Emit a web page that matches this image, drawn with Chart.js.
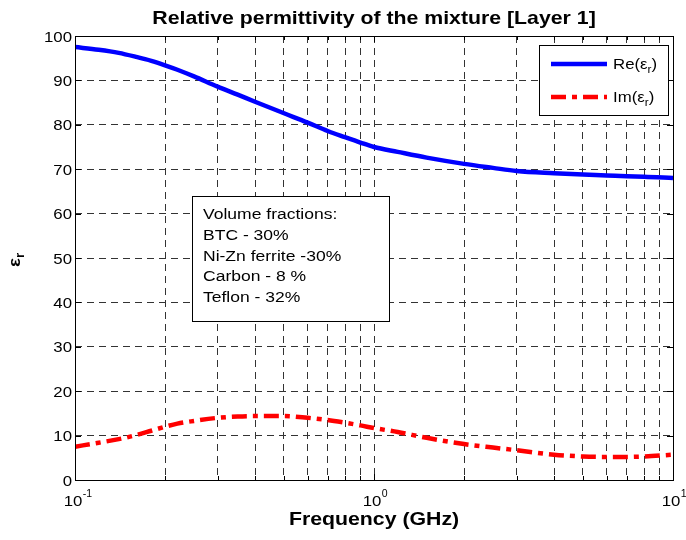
<!DOCTYPE html>
<html>
<head>
<meta charset="utf-8">
<script src="https://cdn.jsdelivr.net/npm/chart.js@4/dist/chart.umd.min.js"></script>
<style>
html,body{margin:0;padding:0;background:#fff;}
#wrap{width:686px;height:540px;}
</style>
</head>
<body>
<div id="wrap"><canvas id="c" width="686" height="540"></canvas></div>
<script>
// ---- data ----
const freqGHz = [0.1, 0.12, 0.14, 0.16, 0.18, 0.2, 0.22, 0.25, 0.3, 0.35, 0.4, 0.5, 0.6, 0.7, 0.8, 0.9, 1.0, 1.2, 1.5, 2, 2.5, 3, 4, 5, 6, 7, 8, 10];
const reEps   = [97.5, 96.9, 96.2, 95.3, 94.4, 93.4, 92.4, 90.9, 88.6, 86.8, 85.2, 82.6, 80.5, 78.6, 77.2, 76.0, 75.0, 73.9, 72.6, 71.2, 70.3, 69.6, 69.1, 68.8, 68.6, 68.4, 68.3, 68.0];
const imEps   = [7.5, 8.4, 9.2, 10.1, 11.1, 12.0, 12.7, 13.3, 14.0, 14.3, 14.4, 14.4, 14.0, 13.5, 12.9, 12.3, 11.7, 10.8, 9.5, 8.1, 7.3, 6.7, 5.7, 5.3, 5.2, 5.2, 5.3, 5.7];
const xTickValues = [0.1,0.2,0.3,0.4,0.5,0.6,0.7,0.8,0.9,1,2,3,4,5,6,7,8,9,10];
const xMajorTicks = [0.1, 1, 10];
const xMajorExp = ['-1', '0', '1'];
const yTickValues = [0,10,20,30,40,50,60,70,80,90,100];
const titleText = 'Relative permittivity of the mixture [Layer 1]';
const xLabel = 'Frequency (GHz)';
const seriesNames = [['Re(ε','r',')'], ['Im(ε','r',')']];
const noteLines = ['Volume fractions:', 'BTC - 30%', 'Ni-Zn ferrite -30%', 'Carbon - 8 %', 'Teflon - 32%'];

const FONT = "'Liberation Sans', Arial, Helvetica, sans-serif";
const SX = 1.12;

function drawText(ctx, text, x, y, font, align, sx) {
  ctx.save();
  ctx.font = font;
  ctx.textBaseline = 'alphabetic';
  const w = ctx.measureText(text).width * sx;
  let x0 = x;
  if (align === 'center') x0 = x - w / 2;
  else if (align === 'right') x0 = x - w;
  ctx.translate(x0, y);
  ctx.scale(sx, 1);
  ctx.textAlign = 'left';
  ctx.fillText(text, 0, 0);
  ctx.restore();
  return w;
}
function drawParts(ctx, parts, x, y, sx) {
  let cx = x;
  for (const p of parts) {
    cx += drawText(ctx, p.t, cx, y + (p.dy || 0), p.f, 'left', sx);
  }
  return cx - x;
}

const decor = {
  id: 'decor',
  beforeDraw(chart) {
    const ctx = chart.ctx;
    ctx.save();
    ctx.fillStyle = '#fff';
    ctx.fillRect(0, 0, chart.width, chart.height);
    ctx.restore();
  },
  afterDatasetsDraw(chart) {
    const ctx = chart.ctx;
    const a = chart.chartArea;
    const xs = chart.scales.x, ys = chart.scales.y;
    ctx.save();
    // box
    ctx.strokeStyle = '#000';
    ctx.lineWidth = 1;
    ctx.strokeRect(Math.round(a.left) + 0.5, Math.round(a.top) + 0.5, Math.round(a.right - a.left), Math.round(a.bottom - a.top));
    // inside ticks
    ctx.beginPath();
    for (const v of xTickValues) {
      const px = Math.round(xs.getPixelForValue(v)) + 0.5;
      const len = xMajorTicks.includes(v) ? 6 : 4;
      ctx.moveTo(px, a.bottom); ctx.lineTo(px, a.bottom - len);
      ctx.moveTo(px, a.top); ctx.lineTo(px, a.top + len);
    }
    for (const v of yTickValues) {
      const py = Math.round(ys.getPixelForValue(v)) + 0.5;
      ctx.moveTo(a.left, py); ctx.lineTo(a.left + 6, py);
      ctx.moveTo(a.right, py); ctx.lineTo(a.right - 6, py);
    }
    ctx.stroke();

    ctx.fillStyle = '#000';
    // y tick labels
    for (const v of yTickValues) {
      const py = ys.getPixelForValue(v);
      drawText(ctx, String(v), a.left - 3, py + 5.5, '15px ' + FONT, 'right', SX);
    }
    // x tick labels
    xMajorTicks.forEach((v, i) => {
      const px = xs.getPixelForValue(v) - 2;
      const w = drawText(ctx, '10', px, 506, '15px ' + FONT, 'center', SX);
      drawText(ctx, xMajorExp[i], px + w / 2 + 0.5, 497, '10.5px ' + FONT, 'left', 1.0);
    });
    // title
    drawText(ctx, titleText, (a.left + a.right) / 2, 24, 'bold 19px ' + FONT, 'center', 1.12);
    // x label
    drawText(ctx, xLabel, (a.left + a.right) / 2, 525, 'bold 18.5px ' + FONT, 'center', 1.15);
    // y label (rotated)
    ctx.save();
    ctx.translate(20, 267);
    ctx.rotate(-Math.PI / 2);
    drawParts(ctx, [{t:'ε', f:'bold 17px ' + FONT}, {t:'r', f:'bold 12px ' + FONT, dy:4}], 0, 0, 1.1);
    ctx.restore();

    // note box
    ctx.fillStyle = '#fff';
    ctx.fillRect(192, 196, 197, 125);
    ctx.strokeStyle = '#000';
    ctx.strokeRect(192.5, 196.5, 197, 125);
    ctx.fillStyle = '#000';
    noteLines.forEach((t, i) => {
      drawText(ctx, t, 203, 219 + i * 20.8, '15.5px ' + FONT, 'left', 1.13);
    });

    // legend box
    const lx = 539, ly = 45, lw = 129, lh = 70;
    ctx.fillStyle = '#fff';
    ctx.fillRect(lx, ly, lw, lh);
    ctx.strokeStyle = '#000';
    ctx.strokeRect(lx + 0.5, ly + 0.5, lw, lh);
    chart.data.datasets.forEach((ds, i) => {
      const y = i === 0 ? 64 : 97;
      ctx.save();
      ctx.strokeStyle = ds.borderColor;
      ctx.lineWidth = ds.borderWidth;
      ctx.setLineDash(ds.borderDash || []);
      ctx.beginPath();
      ctx.moveTo(551, y); ctx.lineTo(607, y);
      ctx.stroke();
      ctx.restore();
      ctx.fillStyle = '#000';
      const n = seriesNames[i];
      drawParts(ctx, [
        {t:n[0], f:'15px ' + FONT},
        {t:n[1], f:'10.5px ' + FONT, dy:4},
        {t:n[2], f:'15px ' + FONT}
      ], 613, y + 5, SX);
    });
    ctx.restore();
  }
};

const toPts = (ys) => freqGHz.map((f, i) => ({x: f, y: ys[i]}));

new Chart(document.getElementById('c'), {
  type: 'line',
  data: {
    datasets: [
      { label: 'Re', data: toPts(reEps), borderColor: '#0000ff', borderWidth: 4.5, pointRadius: 0, fill: false, cubicInterpolationMode: 'monotone' },
      { label: 'Im', data: toPts(imEps), borderColor: '#ff0000', borderWidth: 4.5, borderDash: [15, 6, 5, 6], pointRadius: 0, fill: false, cubicInterpolationMode: 'monotone' }
    ]
  },
  options: {
    responsive: false,
    animation: false,
    layout: { padding: { top: 36, right: 13, left: 0, bottom: 0 } },
    plugins: { legend: { display: false }, title: { display: false }, tooltip: { enabled: false } },
    scales: {
      x: {
        type: 'logarithmic', min: 0.1, max: 10,
        afterBuildTicks: (s) => { s.ticks = xTickValues.map(v => ({ value: v })); },
        afterFit: (s) => { s.height = 60; },
        ticks: { display: false, autoSkip: false },
        border: { display: false, dash: [7, 5] },
        grid: { color: '#333', lineWidth: 1, drawTicks: false }
      },
      y: {
        type: 'linear', min: 0, max: 100,
        afterBuildTicks: (s) => { s.ticks = yTickValues.map(v => ({ value: v })); },
        afterFit: (s) => { s.width = 75; },
        ticks: { display: false },
        border: { display: false, dash: [7, 5] },
        grid: { color: '#333', lineWidth: 1, drawTicks: false }
      }
    }
  },
  plugins: [decor]
});
</script>
</body>
</html>
